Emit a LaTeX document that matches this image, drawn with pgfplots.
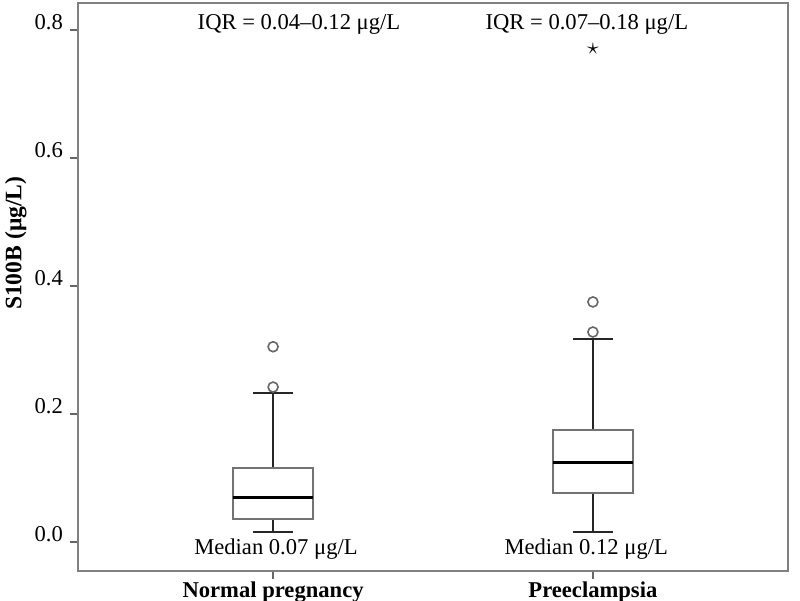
\documentclass[border=0pt]{standalone}
\usepackage{fontspec}
\setmainfont{Liberation Serif}
\usepackage{pgfplots}
\pgfplotsset{compat=1.18}
\usepgfplotslibrary{statistics}

\newcommand{\lblfont}{\fontsize{11.3}{13}\selectfont}

\begin{document}
\begin{tikzpicture}
\begin{axis}[
  scale only axis,
  width=355pt, height=284pt,
  xmin=0.39, xmax=2.61,
  ymin=-0.0453, ymax=0.842,
  axis line style={draw=gray, line width=1pt},
  tick align=outside,
  major tick length=4pt,
  tick style={draw=gray!80!black, line width=1pt},
  xtick pos=bottom, ytick pos=left,
  xtick={1,2},
  xticklabels={Normal pregnancy, Preeclampsia},
  xticklabel style={font=\lblfont\bfseries, anchor=north, inner sep=1pt},
  ytick={0,0.2,0.4,0.6,0.8},
  yticklabel style={font=\lblfont, anchor=base east,
    /pgf/number format/fixed, /pgf/number format/fixed zerofill,
    /pgf/number format/precision=1, /pgf/number format/assume math mode=true},
  ylabel={S100B (μg/L)},
  ylabel style={font=\fontsize{11.8}{13}\selectfont\bfseries, at={(axis description cs:-0.0875,0.577)}, anchor=center},
  boxplot/draw direction=y,
  boxplot/box extend=0.25,
  boxplot/whisker extend=0.125,
  boxplot/every box/.style={draw=gray!90!black, line width=1pt},
  boxplot/every whisker/.style={draw=black!85, line width=1.1pt},
  boxplot/every median/.style={draw=black, line width=1.6pt},
]
% Normal pregnancy (outliers as data)
\addplot[mark=o, mark size=2.5pt, draw=black!85, mark options={draw=gray!80!black, line width=0.8pt},
  boxplot prepared={draw position=1, lower whisker=0.0156, lower quartile=0.036,
  median=0.070, upper quartile=0.116, upper whisker=0.233}]
  table[row sep=\\, y index=0] {0.242\\ 0.305\\};
% Preeclampsia
\addplot[mark=o, mark size=2.5pt, draw=black!85, mark options={draw=gray!80!black, line width=0.8pt},
  boxplot prepared={draw position=2, lower whisker=0.015, lower quartile=0.076,
  median=0.1245, upper quartile=0.175, upper whisker=0.317}]
  table[row sep=\\, y index=0] {0.328\\ 0.375\\};

% extreme value
\addplot[only marks, mark=text, text mark={\fontsize{12}{12}\selectfont$\star$}, black!80]
  coordinates {(2,0.771)};

\node[anchor=base, font=\lblfont] at (axis cs:1.081,0.8) {IQR = 0.04--0.12 μg/L};
\node[anchor=base, font=\lblfont] at (axis cs:1.981,0.8) {IQR = 0.07--0.18 μg/L};
\node[anchor=base, font=\lblfont] at (axis cs:1.009,-0.0203) {Median 0.07 μg/L};
\node[anchor=base, font=\lblfont] at (axis cs:1.979,-0.0203) {Median 0.12 μg/L};
\end{axis}
\pgfresetboundingbox
\path ([shift={(-39pt,-15pt)}]current axis.south west) rectangle ([shift={(6pt,1.5pt)}]current axis.north east);
\end{tikzpicture}
\end{document}
